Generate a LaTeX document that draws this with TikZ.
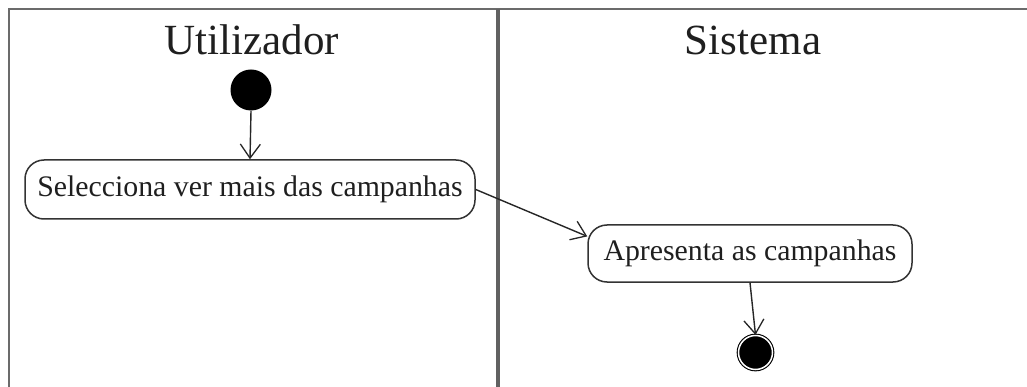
\documentclass[tikz,border=0pt]{standalone}
\usepackage{fontspec}
\setmainfont{Liberation Serif}
\usetikzlibrary{arrows.meta}
\begin{document}
\begin{tikzpicture}[x=1pt,y=-1pt,
  lane/.style={draw=black!58,line width=2.4pt},
  divider/.style={draw=black!62,line width=3.4pt},
  lanetitle/.style={anchor=base,font=\fontsize{43}{50}\selectfont,text=black!88},
  action/.style={draw=black!80,line width=1.5pt,rounded corners=19pt,fill=white,
    inner sep=0pt,font=\fontsize{29.8}{35}\selectfont,text=black!88},
  initial/.style={circle,fill=black,inner sep=0pt,minimum size=41pt},
  final/.style={circle,draw=black,line width=1.1pt,fill=black,inner sep=0pt,
    minimum size=34pt,double=white,double distance=1.5pt},
  flow/.style={draw=black!85,line width=1.4pt,
    -{Straight Barb[length=14pt,width=20pt,line width=1.3pt]}}
]
\useasboundingbox (0,0) rectangle (1027,387);
\fill[white] (0,0) rectangle (1027,387);

% swimlane frame
\coordinate (tl) at (9,9);
\coordinate (tr) at (1027,9);
\coordinate (bl) at (9,387);
\coordinate (dt) at (498,9);
\coordinate (db) at (498,387);
\draw[lane] (bl) -- (tl) -- (tr);
\draw[divider] (dt) -- (db);

% lane headings
\node[lanetitle] (user) at (252,55) {Utilizador};
\node[lanetitle] (sys) at (753,55) {Sistema};

% nodes
\node[initial] (start) at (251,90) {};
\node[action,minimum width=450pt,minimum height=59pt] (sel) at (250,189.5)
  {Selecciona ver mais das campanhas};
\node[action,minimum width=324pt,minimum height=57pt] (show) at (750,253.5)
  {Apresenta as campanhas};
\node[final] (stop) at (755.5,352.5) {};

% control flow
\draw[flow] (start.south) -- (sel.north);
\draw[flow] (sel.east) -- (show.174);
\draw[flow] (show.south) -- (stop.north);
\end{tikzpicture}
\end{document}
